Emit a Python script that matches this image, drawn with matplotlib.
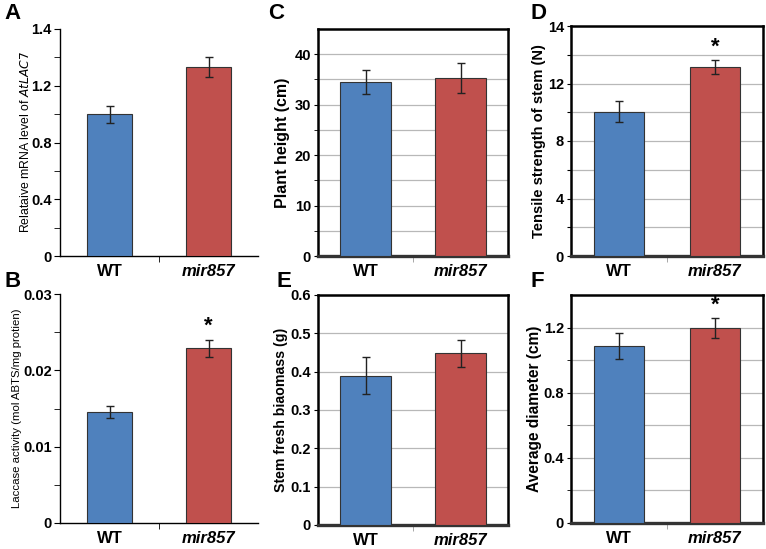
import matplotlib
matplotlib.use("Agg")
import matplotlib.pyplot as plt
from matplotlib.ticker import FixedLocator

plt.rcParams["font.family"] = ["Liberation Sans", "DejaVu Sans"]

# categories
GENOTYPES = ["WT", "mir857"]
BLUE = "#4f81bd"
RED = "#c0504d"

# A: relative AtLAC7 mRNA
mrna_mean = [1.00, 1.33]
mrna_err = [0.06, 0.07]
# B: laccase activity
laccase_mean = [0.0145, 0.0229]
laccase_err = [0.0008, 0.0011]
# C: plant height
height_mean = [34.5, 35.3]
height_err = [2.4, 3.0]
# D: tensile strength
tensile_mean = [10.05, 13.13]
tensile_err = [0.76, 0.49]
# E: stem fresh biomass
biomass_mean = [0.39, 0.448]
biomass_err = [0.049, 0.035]
# F: average diameter
diameter_mean = [1.086, 1.195]
diameter_err = [0.081, 0.062]

W, H = 766, 549


def box(l, t, r, b):
    return [l / W, 1 - b / H, (r - l) / W, (b - t) / H]


def bars(ax, mean, err, width, stars=()):
    x = range(len(mean))
    ax.bar(x, mean, width=width, color=[BLUE, RED], edgecolor="#333333",
           linewidth=0.8, zorder=3)
    for i, (m, e) in enumerate(zip(mean, err)):
        ax.errorbar(i, m, yerr=e, fmt="none", ecolor="#222222",
                    elinewidth=1.0, capsize=3, capthick=1.0, zorder=4)
    for i in stars:
        ax.annotate("*", (i, mean[i] + err[i]), xytext=(0, 2),
                    textcoords="offset points", ha="center", va="bottom",
                    fontsize=16, fontweight="bold")
    ax.set_xlim(-0.5, 1.5)
    ax.set_xticks([0, 1])
    ax.set_xticklabels(GENOTYPES)
    labs = ax.get_xticklabels()
    labs[0].set_fontweight("bold")
    labs[1].set_fontweight("bold")
    labs[1].set_fontstyle("italic")
    for lb in labs:
        lb.set_fontsize(12)
    ax.tick_params(axis="x", which="major", length=0, pad=6)
    ax.xaxis.set_minor_locator(FixedLocator([0.5]))
    ax.tick_params(axis="x", which="minor", length=4, direction="out")
    ax.tick_params(axis="y", labelsize=10.5, pad=2)
    for lb in ax.get_yticklabels():
        lb.set_fontweight("bold")


def prism(ax):
    for s in ("top", "right"):
        ax.spines[s].set_visible(False)
    ax.spines["left"].set_linewidth(1.0)
    ax.spines["bottom"].set_linewidth(1.0)
    ax.tick_params(axis="y", which="both", direction="out", length=4)


def excel(ax, grid_ticks):
    for s in ax.spines.values():
        s.set_linewidth(1.8)
        s.set_color("black")
    ax.spines["bottom"].set_linewidth(2.4)
    ax.spines["bottom"].set_color("#333333")
    ax.set_yticks(grid_ticks, minor=True)
    ax.grid(True, axis="y", which="both", color="#b8b8b8", linewidth=0.9, zorder=0)
    ax.tick_params(axis="y", which="both", direction="out", length=3)
    ax.tick_params(axis="x", which="minor", color="#999999")


fig = plt.figure(figsize=(W / 100, H / 100), dpi=100)

# A
axA = fig.add_axes(box(60, 29, 258, 256))
prism(axA)
axA.set_ylim(0, 1.6)
axA.set_yticks([0, 0.4, 0.8, 1.2, 1.6])
axA.set_yticklabels(["0", "0.4", "0.8", "1.2", "1.4"])
axA.set_yticks([0.2, 0.6, 1.0, 1.4], minor=True)
bars(axA, mrna_mean, mrna_err, 0.46)
axA.set_ylabel("Relataive mRNA level of $\\it{AtLAC7}$", fontsize=8.8)
axA.yaxis.set_label_coords(-0.14, 0.5)

# B
axB = fig.add_axes(box(60, 294, 258, 523))
prism(axB)
axB.set_ylim(0, 0.03)
axB.set_yticks([0, 0.01, 0.02, 0.03])
axB.set_yticklabels(["0", "0.01", "0.02", "0.03"])
axB.set_yticks([0.005, 0.015, 0.025], minor=True)
bars(axB, laccase_mean, laccase_err, 0.46, stars=[1])
axB.set_ylabel("Laccase activity (mol ABTS/mg protien)", fontsize=8.2)
axB.yaxis.set_label_coords(-0.19, 0.5)

# C
axC = fig.add_axes(box(318, 29, 508, 256))
axC.set_ylim(0, 45)
axC.set_yticks([0, 10, 20, 30, 40])
excel(axC, [5, 15, 25, 35])
bars(axC, height_mean, height_err, 0.53)
axC.set_ylabel("Plant height (cm)", fontsize=11.5, fontweight="bold")
axC.yaxis.set_label_coords(-0.15, 0.5)

# D
axD = fig.add_axes(box(571, 26, 763, 256))
axD.set_ylim(0, 16)
axD.set_yticks([0, 2, 4, 6, 8, 10, 12, 14, 16])
axD.set_yticklabels(["0", "", "4", "", "8", "", "12", "", "14"])
excel(axD, [])
bars(axD, tensile_mean, tensile_err, 0.53, stars=[1])
axD.set_ylabel("Tensile strength of stem (N)", fontsize=10.6, fontweight="bold")
axD.yaxis.set_label_coords(-0.13, 0.5)

# E
axE = fig.add_axes(box(318, 295, 508, 525))
axE.set_ylim(0, 0.6)
axE.set_yticks([0, 0.1, 0.2, 0.3, 0.4, 0.5, 0.6])
axE.set_yticklabels(["0", "0.1", "0.2", "0.3", "0.4", "0.5", "0.6"])
excel(axE, [])
bars(axE, biomass_mean, biomass_err, 0.53)
axE.set_ylabel("Stem fresh biaomass (g)", fontsize=10.2, fontweight="bold")
axE.yaxis.set_label_coords(-0.16, 0.5)

# F
axF = fig.add_axes(box(571, 295, 763, 523))
axF.set_ylim(0, 1.4)
axF.set_yticks([0, 0.4, 0.8, 1.2])
axF.set_yticklabels(["0", "0.4", "0.8", "1.2"])
excel(axF, [0.2, 0.6, 1.0])
bars(axF, diameter_mean, diameter_err, 0.53, stars=[1])
axF.set_ylabel("Average diameter (cm)", fontsize=11.2, fontweight="bold")
axF.yaxis.set_label_coords(-0.15, 0.5)

# panel letters
for letter, (px, py) in {"A": (4, 3), "B": (4, 271), "C": (268, 3),
                         "E": (276, 271), "D": (530, 3), "F": (530, 271)}.items():
    fig.text(px / W, 1 - py / H, letter, fontsize=16, fontweight="bold",
             ha="left", va="top")

fig.savefig("out.png", dpi=100)
